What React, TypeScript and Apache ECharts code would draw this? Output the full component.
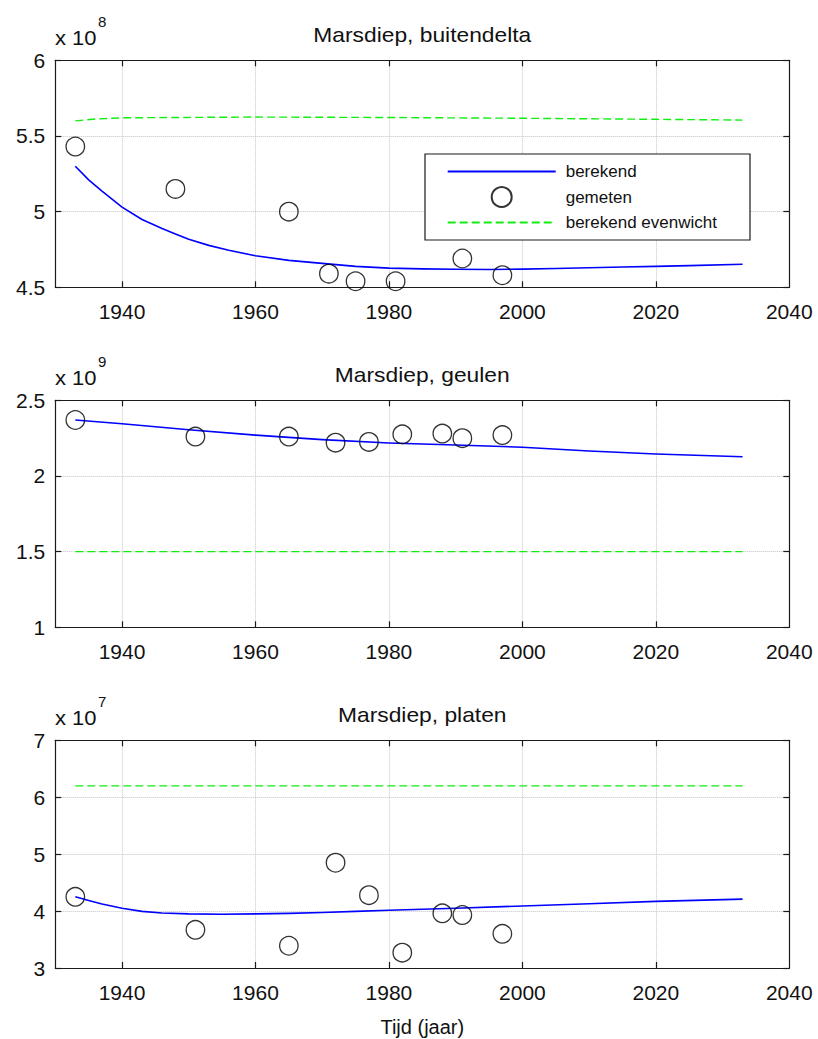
import { useEffect, useRef } from "react";
import * as echarts from "echarts";

// ---------- DATA ----------
const xLabelValues = [1940, 1960, 1980, 2000, 2020, 2040];
const xTickValues = [1940, 1960, 1980, 2000, 2020];

// Panel 1: Marsdiep, buitendelta (x 10^8)
const calcYears1 = [1933, 1935, 1937, 1940, 1943, 1946, 1948, 1950, 1953, 1956, 1960, 1965, 1970, 1975, 1980, 1985, 1990, 1995, 2000, 2005, 2010, 2015, 2020, 2025, 2033];
const berekend1 = [5.3, 5.21, 5.135, 5.03, 4.948, 4.888, 4.852, 4.818, 4.777, 4.745, 4.708, 4.678, 4.658, 4.638, 4.627, 4.622, 4.619, 4.618, 4.62, 4.624, 4.629, 4.634, 4.638, 4.643, 4.652];
const measYears1 = [1933, 1948, 1965, 1971, 1975, 1981, 1991, 1997];
const gemeten1 = [5.43, 5.15, 5.0, 4.59, 4.54, 4.54, 4.69, 4.58];
const eqYears1 = [1933, 1936, 1940, 1960, 1980, 2000, 2020, 2033];
const evenwicht1 = [5.6, 5.612, 5.62, 5.625, 5.622, 5.617, 5.61, 5.605];

// Panel 2: Marsdiep, geulen (x 10^9)
const calcYears2 = [1933, 1940, 1950, 1960, 1970, 1980, 1990, 2000, 2010, 2020, 2033];
const berekend2 = [2.37, 2.345, 2.305, 2.27, 2.24, 2.218, 2.205, 2.19, 2.165, 2.145, 2.127];
const measYears2 = [1933, 1951, 1965, 1972, 1977, 1982, 1988, 1991, 1997];
const gemeten2 = [2.37, 2.26, 2.26, 2.22, 2.225, 2.275, 2.28, 2.25, 2.27];
const eqYears2 = [1933, 2033];
const evenwicht2 = [1.5, 1.5];

// Panel 3: Marsdiep, platen (x 10^7)
const calcYears3 = [1933, 1935, 1937, 1940, 1943, 1946, 1950, 1955, 1960, 1965, 1970, 1975, 1980, 1990, 2000, 2010, 2020, 2033];
const berekend3 = [4.25, 4.185, 4.125, 4.05, 3.995, 3.965, 3.95, 3.945, 3.95, 3.96, 3.975, 3.995, 4.015, 4.05, 4.09, 4.13, 4.17, 4.21];
const measYears3 = [1933, 1951, 1965, 1972, 1977, 1982, 1988, 1991, 1997];
const gemeten3 = [4.25, 3.67, 3.39, 4.85, 4.28, 3.27, 3.96, 3.93, 3.6];
const eqYears3 = [1933, 2033];
const evenwicht3 = [6.2, 6.2];

const titles = ["Marsdiep, buitendelta", "Marsdiep, geulen", "Marsdiep, platen"];
const exponents = ["8", "9", "7"];
const seriesNames = ["berekend", "gemeten", "berekend evenwicht"];
const xAxisName = "Tijd (jaar)";

// ---------- LAYOUT ----------
const FONT = "'Liberation Sans', Arial, Helvetica, sans-serif";
const GRID_LEFT = 55.3;
const GRID_WIDTH = 734;
const panels = [
  { top: 60.3, height: 227, ymin: 4.5, ymax: 6, yint: 0.5, calcY: calcYears1, calc: berekend1, measY: measYears1, meas: gemeten1, eqY: eqYears1, eq: evenwicht1 },
  { top: 400.3, height: 227, ymin: 1, ymax: 2.5, yint: 0.5, calcY: calcYears2, calc: berekend2, measY: measYears2, meas: gemeten2, eqY: eqYears2, eq: evenwicht2 },
  { top: 740.3, height: 227.7, ymin: 3, ymax: 7, yint: 1, calcY: calcYears3, calc: berekend3, measY: measYears3, meas: gemeten3, eqY: eqYears3, eq: evenwicht3 },
];

const zip = (a: number[], b: number[]) => a.map((v, i) => [v, b[i]]);

const AXIS_COLOR = "#1a1a1a";
const GRID_COLOR = "#c4c4c4";
const BLUE = "#0000ff";
const GREEN = "#11ee11";

function buildOption() {
  const grid: any[] = [];
  const xAxis: any[] = [];
  const yAxis: any[] = [];
  const series: any[] = [];
  const graphic: any[] = [];

  panels.forEach((p, i) => {
    grid.push({ left: GRID_LEFT, top: p.top, width: GRID_WIDTH, height: p.height, containLabel: false });
    const common = {
      type: "value",
      gridIndex: i,
      min: 1930,
      max: 2040,
      axisLine: { show: true, onZero: false, lineStyle: { color: AXIS_COLOR, width: 1.2 } },
      axisTick: { show: true, inside: true, length: 6, customValues: xTickValues, lineStyle: { color: AXIS_COLOR, width: 1.2 } },
    };
    xAxis.push({
      ...common,
      position: "bottom",
      axisLabel: {
        show: true,
        customValues: xLabelValues,
        formatter: (v: number) => String(v),
        fontFamily: FONT,
        fontSize: 21,
        color: "#111",
        margin: 14,
      },
      splitLine: { show: true, lineStyle: { color: GRID_COLOR, type: "dotted", width: 1 } },
      ...(i === 2
        ? { name: xAxisName, nameLocation: "middle", nameGap: 49, nameTextStyle: { fontFamily: FONT, fontSize: 20, color: "#111" } }
        : {}),
    });
    xAxis.push({
      ...common,
      position: "top",
      axisLabel: { show: false },
      splitLine: { show: false },
    });
    const ycommon = {
      type: "value",
      gridIndex: i,
      min: p.ymin,
      max: p.ymax,
      interval: p.yint,
      axisLine: { show: true, onZero: false, lineStyle: { color: AXIS_COLOR, width: 1.2 } },
      axisTick: { show: true, inside: true, length: 6, lineStyle: { color: AXIS_COLOR, width: 1.2 } },
    };
    yAxis.push({
      ...ycommon,
      position: "left",
      axisLabel: { show: true, fontFamily: FONT, fontSize: 21, color: "#111", margin: 10 },
      splitLine: { show: true, lineStyle: { color: GRID_COLOR, type: "dotted", width: 1 } },
    });
    yAxis.push({
      ...ycommon,
      position: "right",
      axisLabel: { show: false },
      splitLine: { show: false },
    });

    series.push({
      name: seriesNames[0],
      type: "line",
      xAxisIndex: 2 * i,
      yAxisIndex: 2 * i,
      data: zip(p.calcY, p.calc),
      symbol: "none",
      smooth: false,
      lineStyle: { color: BLUE, width: 1.6, join: "round" },
      itemStyle: { color: BLUE },
      z: 3,
    });
    series.push({
      name: seriesNames[1],
      type: "scatter",
      xAxisIndex: 2 * i,
      yAxisIndex: 2 * i,
      data: zip(p.measY, p.meas),
      symbol: "circle",
      symbolSize: 18.5,
      itemStyle: { color: "rgba(0,0,0,0)", borderColor: "#000", borderWidth: 1.3 },
      z: 4,
    });
    series.push({
      name: seriesNames[2],
      type: "line",
      xAxisIndex: 2 * i,
      yAxisIndex: 2 * i,
      data: zip(p.eqY, p.eq),
      symbol: "none",
      smooth: false,
      lineStyle: { color: GREEN, width: 1.4, type: [8, 4] },
      itemStyle: { color: GREEN },
      z: 3,
    });

    // title above each panel
    graphic.push({
      type: "text",
      x: GRID_LEFT + GRID_WIDTH / 2,
      y: p.top - 25,
      scaleX: 1.14,
      style: { text: titles[i], fontFamily: FONT, fontSize: 20, fill: "#111", align: "center", verticalAlign: "middle" },
    });
    // exponent label
    graphic.push({
      type: "text",
      x: 55,
      y: p.top - 22,
      scaleX: 1.1,
      style: { text: "x 10", fontFamily: FONT, fontSize: 20, fill: "#111", align: "left", verticalAlign: "middle" },
    });
    graphic.push({
      type: "text",
      x: 98,
      y: p.top - 39,
      style: { text: exponents[i], fontFamily: FONT, fontSize: 15, fill: "#111", align: "left", verticalAlign: "middle" },
    });
  });

  // legend box (panel 1)
  graphic.push({
    type: "rect",
    z: 3,
    shape: { x: 425, y: 154, width: 325, height: 86 },
    style: { fill: "#fff", stroke: AXIS_COLOR, lineWidth: 1.2 },
  });

  return {
    animation: false,
    backgroundColor: "#fff",
    grid,
    xAxis,
    yAxis,
    series,
    graphic,
    legend: {
      data: [
        { name: seriesNames[0], itemStyle: { opacity: 0, borderWidth: 0 } },
        { name: seriesNames[1] },
        { name: seriesNames[2], itemStyle: { opacity: 0, borderWidth: 0 } },
      ],
      orient: "vertical",
      left: 446.7,
      top: 163,
      padding: 0,
      itemWidth: 108,
      itemHeight: 20,
      itemGap: 6,
      selectedMode: false,
      z: 5,
      textStyle: { fontFamily: FONT, fontSize: 17, color: "#111", padding: [0, 0, 0, 5] },
    },
  };
}

export default function App() {
  const ref = useRef<HTMLDivElement>(null);
  useEffect(() => {
    document.body.style.margin = "0";
    const chart = echarts.init(ref.current!, null, { renderer: "svg" });
    chart.setOption(buildOption() as any);
    return () => chart.dispose();
  }, []);
  return <div ref={ref} style={{ width: 818, height: 1039 }} />;
}
